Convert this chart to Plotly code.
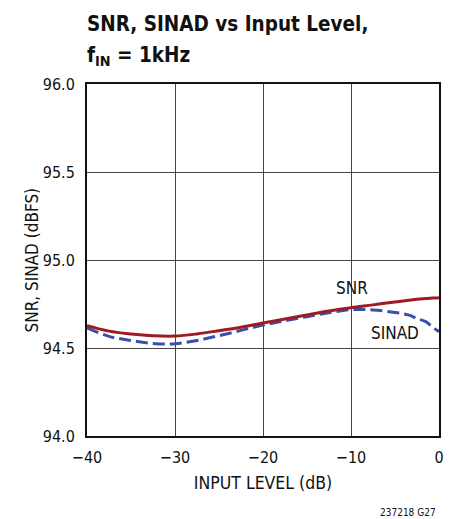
import plotly.graph_objects as go

x_level = [-40, -37.5, -35, -32.5, -30, -27.5, -25, -22.5, -20, -17.5, -15, -12.5, -10, -7.5, -5, -3.5, -2.5, -1.5, -1, -0.5, 0]
snr = [94.627, 94.596, 94.580, 94.570, 94.568, 94.580, 94.598, 94.618, 94.642, 94.665, 94.688, 94.710, 94.729, 94.745, 94.762, 94.771, 94.777, 94.781, 94.783, 94.784, 94.786]
sinad = [94.615, 94.566, 94.543, 94.526, 94.524, 94.543, 94.570, 94.600, 94.630, 94.655, 94.678, 94.700, 94.718, 94.716, 94.702, 94.688, 94.668, 94.650, 94.630, 94.610, 94.593]

x_ticks = [-40, -30, -20, -10, 0]
y_ticks = [94.0, 94.5, 95.0, 95.5, 96.0]
y_labels = ["94.0", "94.5", "95.0", "95.5", "96.0"]

FONT = "Liberation Sans Narrow, DejaVu Sans Condensed, Arial Narrow, sans-serif"

fig = go.Figure()
fig.add_trace(go.Scatter(x=x_level, y=sinad, mode="lines", line=dict(color="#3B4EA8", width=3, dash="12px,5px", shape="spline"), name="SINAD"))
fig.add_trace(go.Scatter(x=x_level, y=snr, mode="lines", line=dict(color="#9E1B22", width=3, shape="spline"), name="SNR"))

fig.update_layout(
    width=458, height=519,
    margin=dict(l=87, r=19, t=84, b=83),
    paper_bgcolor="white", plot_bgcolor="white",
    showlegend=False,
    font=dict(family=FONT, size=16, color="#111"),
    xaxis=dict(range=[-40, 0], tickvals=x_ticks, showgrid=True, gridcolor="#444", gridwidth=1,
               showline=True, linecolor="#111", linewidth=2, mirror=True, zeroline=False,
               ticks="", ticklabelstandoff=6, tickfont=dict(size=16),
               title=dict(text="INPUT LEVEL (dB)", font=dict(size=17.5), standoff=11)),
    yaxis=dict(range=[94.0, 96.0], tickvals=y_ticks, ticktext=y_labels, showgrid=True, gridcolor="#444", gridwidth=1,
               showline=True, linecolor="#111", linewidth=2, mirror=True, zeroline=False,
               ticks="", ticklabelstandoff=7, tickfont=dict(size=16)),
    annotations=[
        dict(text="<b>SNR, SINAD vs Input Level,</b>", xref="paper", yref="paper", x=-0.006, y=(436 - 23.5) / 352,
             xanchor="left", yanchor="middle", showarrow=False, font=dict(size=20.5, family=FONT, color="#111")),
        dict(text="<b>f<sub>IN</sub> = 1kHz</b>", xref="paper", yref="paper", x=-0.006, y=(436 - 56) / 352,
             xanchor="left", yanchor="middle", showarrow=False, font=dict(size=20.5, family=FONT, color="#111")),
        dict(text="SNR, SINAD (dBFS)", textangle=-90, xref="paper", yref="paper", x=(31.5 - 87) / 352, y=0.5,
             xanchor="center", yanchor="middle", showarrow=False, font=dict(size=17, family=FONT, color="#111")),
        dict(text="SNR", x=-9.9, y=94.84, xref="x", yref="y", showarrow=False, font=dict(size=17, family=FONT, color="#111")),
        dict(text="SINAD", x=-5.0, y=94.585, xref="x", yref="y", showarrow=False, font=dict(size=17, family=FONT, color="#111")),
        dict(text="237218 G27", xref="paper", yref="paper", x=(438 - 87) / 352, y=(436 - 512) / 352,
             xanchor="right", yanchor="middle", showarrow=False, font=dict(size=10, family=FONT, color="#111")),
    ],
)

fig.write_html("out.html", post_script="document.body.style.margin='0';", config={"displayModeBar": False})
